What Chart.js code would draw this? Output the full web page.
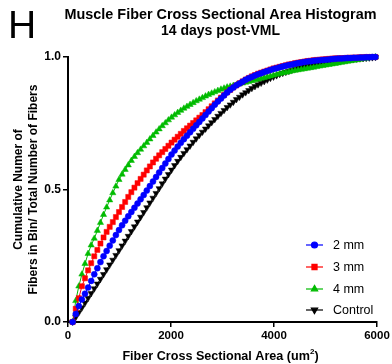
<!DOCTYPE html>
<html>
<head>
<meta charset="utf-8">
<script src="https://cdn.jsdelivr.net/npm/chart.js@4/dist/chart.umd.min.js"></script>
<style>
  html, body { margin: 0; padding: 0; background: #fff; }
  #wrap { width: 392px; height: 364px; position: relative; }
</style>
</head>
<body>
<div id="wrap"><canvas id="c" width="392" height="364"></canvas></div>
<script>
// ---- data ----
const binCenters = [90,150,210,270,330,390,450,510,570,630,690,750,810,870,930,990,1050,1110,1170,1230,1290,1350,1410,1470,1530,1590,1650,1710,1770,1830,1890,1950,2010,2070,2130,2190,2250,2310,2370,2430,2490,2550,2610,2670,2730,2790,2850,2910,2970,3030,3090,3150,3210,3270,3330,3390,3450,3510,3570,3630,3690,3750,3810,3870,3930,3990,4050,4110,4170,4230,4290,4350,4410,4470,4530,4590,4650,4710,4770,4830,4890,4950,5010,5070,5130,5190,5250,5310,5370,5430,5490,5550,5610,5670,5730,5790,5850,5910,5970];

const mm2 = [0,0.03,0.06,0.085,0.107,0.13,0.155,0.18,0.203,0.226,0.248,0.268,0.288,0.308,0.328,0.347,0.365,0.382,0.399,0.415,0.431,0.447,0.463,0.479,0.496,0.513,0.53,0.547,0.564,0.581,0.598,0.615,0.632,0.647,0.662,0.676,0.69,0.703,0.716,0.729,0.742,0.755,0.768,0.781,0.794,0.807,0.82,0.832,0.843,0.855,0.866,0.876,0.885,0.893,0.9,0.907,0.914,0.92,0.925,0.93,0.935,0.939,0.943,0.947,0.951,0.955,0.958,0.961,0.964,0.967,0.97,0.972,0.975,0.977,0.979,0.981,0.983,0.984,0.986,0.987,0.988,0.989,0.99,0.991,0.992,0.993,0.994,0.994,0.995,0.996,0.996,0.997,0.997,0.998,0.998,0.999,0.999,1.0,1.0];

const mm3 = [0,0.05,0.09,0.135,0.165,0.195,0.222,0.248,0.272,0.296,0.319,0.34,0.359,0.377,0.396,0.415,0.434,0.453,0.472,0.49,0.507,0.524,0.54,0.556,0.572,0.587,0.602,0.616,0.629,0.641,0.653,0.665,0.677,0.688,0.699,0.71,0.721,0.731,0.741,0.751,0.761,0.771,0.781,0.792,0.803,0.814,0.825,0.836,0.847,0.857,0.867,0.876,0.885,0.893,0.901,0.908,0.915,0.921,0.927,0.932,0.937,0.941,0.945,0.949,0.953,0.957,0.96,0.963,0.966,0.969,0.972,0.974,0.977,0.979,0.981,0.983,0.985,0.986,0.988,0.989,0.99,0.991,0.992,0.993,0.994,0.995,0.995,0.996,0.996,0.997,0.997,0.998,0.998,0.999,0.999,1.0,1.0,1.0,1.0];

const mm4 = [0,0.08,0.135,0.18,0.22,0.258,0.29,0.315,0.345,0.375,0.405,0.433,0.46,0.487,0.512,0.537,0.557,0.575,0.592,0.609,0.624,0.638,0.651,0.664,0.677,0.69,0.703,0.716,0.728,0.74,0.751,0.762,0.772,0.781,0.79,0.798,0.806,0.813,0.82,0.827,0.834,0.84,0.846,0.852,0.858,0.863,0.868,0.873,0.878,0.882,0.886,0.889,0.892,0.895,0.898,0.901,0.904,0.907,0.91,0.913,0.916,0.919,0.922,0.925,0.928,0.931,0.934,0.937,0.94,0.942,0.944,0.947,0.949,0.951,0.953,0.955,0.957,0.959,0.961,0.963,0.965,0.967,0.969,0.971,0.973,0.975,0.977,0.979,0.981,0.983,0.985,0.987,0.989,0.991,0.993,0.995,0.997,0.998,1.0];

const control = [0,0.018,0.036,0.054,0.072,0.09,0.108,0.126,0.144,0.162,0.18,0.198,0.216,0.234,0.252,0.27,0.288,0.306,0.324,0.342,0.36,0.378,0.396,0.414,0.432,0.45,0.468,0.486,0.504,0.522,0.54,0.557,0.574,0.591,0.607,0.622,0.637,0.651,0.665,0.679,0.692,0.705,0.717,0.729,0.741,0.753,0.765,0.777,0.788,0.799,0.81,0.82,0.83,0.84,0.849,0.858,0.866,0.874,0.882,0.889,0.896,0.902,0.908,0.914,0.92,0.925,0.93,0.935,0.939,0.943,0.947,0.951,0.955,0.958,0.961,0.964,0.967,0.97,0.972,0.974,0.976,0.978,0.98,0.982,0.984,0.985,0.987,0.988,0.989,0.99,0.991,0.992,0.993,0.994,0.995,0.996,0.997,0.998,0.999];

const seriesNames = ["2 mm", "3 mm", "4 mm", "Control"];
const xTicks = [0, 2000, 4000, 6000];
const yTicks = [0, 0.5, 1.0];

// ---- styles ----
const FONT = '"Liberation Sans", Arial, Helvetica, sans-serif';
const styles = [
  { color: '#0000FF', pointStyle: 'circle', radius: 3, rotation: 0 },
  { color: '#FF0000', pointStyle: 'rect', radius: 3.6, rotation: 0 },
  { color: '#00BB00', pointStyle: 'triangle', radius: 3.6, rotation: 0 },
  { color: '#000000', pointStyle: 'triangle', radius: 3.6, rotation: 180 }
];
const values = [mm2, mm3, mm4, control];

const datasets = values.map((vals, i) => ({
  label: seriesNames[i],
  data: binCenters.map((x, j) => ({ x: x, y: vals[j] })),
  borderColor: styles[i].color,
  backgroundColor: styles[i].color,
  pointBackgroundColor: styles[i].color,
  pointBorderColor: styles[i].color,
  pointStyle: styles[i].pointStyle,
  pointRadius: styles[i].radius,
  pointRotation: styles[i].rotation,
  pointBorderWidth: 0.5,
  borderWidth: 1,
  tension: 0,
  clip: false
}));

const decorations = {
  id: 'decorations',
  afterDraw(chart) {
    const ctx = chart.ctx;
    const area = chart.chartArea;
    ctx.save();
    ctx.fillStyle = '#000';
    // panel letter
    ctx.font = '39px ' + FONT;
    ctx.textAlign = 'left';
    ctx.textBaseline = 'alphabetic';
    ctx.fillText('H', 8, 38);
    // title
    const cx = (area.left + area.right) / 2 - 2;
    ctx.font = 'bold 14.4px ' + FONT;
    ctx.textAlign = 'center';
    ctx.textBaseline = 'middle';
    ctx.fillText('Muscle Fiber Cross Sectional Area Histogram', cx, 15);
    ctx.font = 'bold 14px ' + FONT;
    ctx.fillText('14 days post-VML', cx, 31);
    // x axis title with superscript
    ctx.font = 'bold 12.6px ' + FONT;
    const main = 'Fiber Cross Sectional Area (um';
    const sup = '2';
    const tail = ')';
    const wMain = ctx.measureText(main).width;
    const wTail = ctx.measureText(tail).width;
    ctx.font = 'bold 8px ' + FONT;
    const wSup = ctx.measureText(sup).width;
    const total = wMain + wSup + wTail;
    let x0 = cx - total / 2;
    const yB = 360;
    ctx.textAlign = 'left';
    ctx.textBaseline = 'alphabetic';
    ctx.font = 'bold 12.6px ' + FONT;
    ctx.fillText(main, x0, yB);
    ctx.font = 'bold 8px ' + FONT;
    ctx.fillText(sup, x0 + wMain, yB - 6);
    ctx.font = 'bold 12.6px ' + FONT;
    ctx.fillText(tail, x0 + wMain + wSup, yB);
    // y axis title (two lines, rotated)
    const cy = (area.top + area.bottom) / 2;
    ctx.save();
    ctx.translate(19, cy);
    ctx.rotate(-Math.PI / 2);
    ctx.font = 'bold 12px ' + FONT;
    ctx.textAlign = 'center';
    ctx.textBaseline = 'middle';
    ctx.fillText('Cumulative Numer of', 0, 0);
    ctx.fillText('Fibers in Bin/ Total Number of Fibers', 0, 15);
    ctx.restore();
    // legend
    const rows = [245, 267, 289, 310];
    ctx.font = '12.5px ' + FONT;
    ctx.textAlign = 'left';
    ctx.textBaseline = 'middle';
    chart.data.datasets.forEach((ds, i) => {
      const y = rows[i];
      ctx.strokeStyle = styles[i].color;
      ctx.lineWidth = 1.2;
      ctx.beginPath();
      ctx.moveTo(306, y);
      ctx.lineTo(323, y);
      ctx.stroke();
      ctx.fillStyle = styles[i].color;
      Chart.helpers.drawPoint(ctx, {
        pointStyle: styles[i].pointStyle,
        radius: styles[i].radius,
        rotation: styles[i].rotation,
        borderWidth: 0.5
      }, 314.5, y);
      ctx.fillStyle = '#000';
      ctx.fillText(ds.label, 333, y + 0.5);
    });
    ctx.restore();
  }
};

new Chart(document.getElementById('c'), {
  type: 'line',
  data: { datasets: datasets },
  options: {
    responsive: false,
    animation: false,
    devicePixelRatio: 1,
    layout: { padding: { top: 57, right: 15, left: 0, bottom: 0 } },
    plugins: { legend: { display: false }, title: { display: false }, tooltip: { enabled: false } },
    scales: {
      x: {
        type: 'linear',
        min: 0, max: 6000,
        afterFit: s => { s.height = 42; },
        afterBuildTicks: s => { s.ticks = xTicks.map(v => ({ value: v })); },
        ticks: { color: '#000', font: { family: FONT, size: 11.5, weight: 'bold' }, padding: 2, maxRotation: 0, autoSkip: false, callback: v => String(v) },
        grid: { drawOnChartArea: false, drawTicks: true, tickLength: 5, color: '#000', lineWidth: 1.5 },
        border: { display: true, color: '#000', width: 2 }
      },
      y: {
        type: 'linear',
        min: 0, max: 1,
        afterFit: s => { s.width = 68; },
        afterBuildTicks: s => { s.ticks = yTicks.map(v => ({ value: v })); },
        ticks: { color: '#000', font: { family: FONT, size: 12, weight: 'bold' }, padding: 2, autoSkip: false, callback: v => Number(v).toFixed(1) },
        grid: { drawOnChartArea: false, drawTicks: true, tickLength: 5, color: '#000', lineWidth: 1.5 },
        border: { display: true, color: '#000', width: 2 }
      }
    }
  },
  plugins: [decorations]
});
</script>
</body>
</html>
